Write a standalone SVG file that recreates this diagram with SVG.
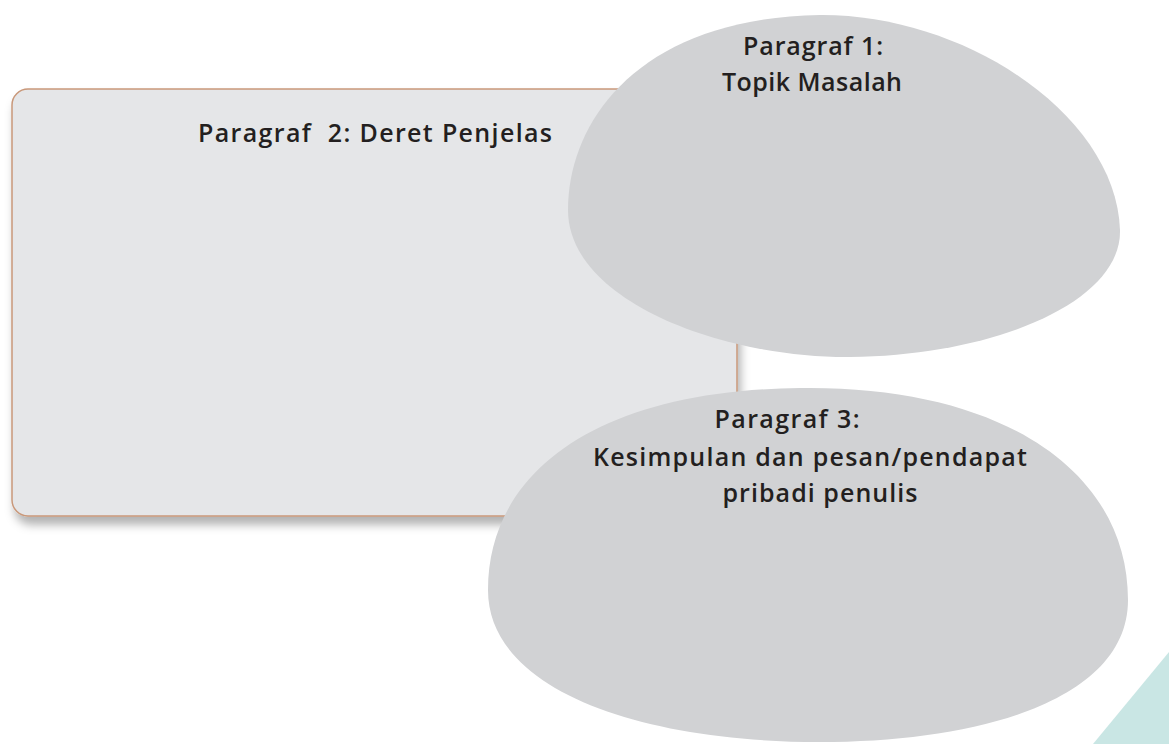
<svg xmlns="http://www.w3.org/2000/svg" width="1169" height="744" viewBox="0 0 1169 744">
<defs>
<filter id="sh" x="-5%" y="-5%" width="115%" height="125%">
<feDropShadow dx="3" dy="8" stdDeviation="5" flood-color="#000" flood-opacity="0.3"/>
</filter>
</defs>
<style>
.lbl{font-family:"Open Sans","Liberation Sans",sans-serif;font-weight:600;font-size:25px;fill:#231f20;text-anchor:middle}
.blob{fill:#d1d2d4}
</style>
<rect width="1169" height="744" fill="#ffffff"/>
<polygon points="1169,652 1169,744 1093,744" fill="#c9e6e4"/>
<g id="connectors"></g>
<g id="p2">
<rect x="12" y="89" width="725" height="427" rx="16" fill="#e5e6e8" stroke="#c9987a" stroke-width="1.5" filter="url(#sh)"/>
<text class="lbl" x="375" y="142" textLength="354" lengthAdjust="spacing" xml:space="preserve">Paragraf  2: Deret Penjelas</text>
</g>
<g id="p1">
<path class="blob" d="M 820 15 C 965 14, 1116 115, 1120 230 C 1122 300, 1000 355, 850 357 C 720 358, 568 300, 568 210 C 568 120, 640 18, 820 15 Z"/>
<text class="lbl" x="813" y="55" textLength="140" lengthAdjust="spacing">Paragraf 1:</text>
<text class="lbl" x="812" y="91" textLength="180" lengthAdjust="spacing">Topik Masalah</text>
</g>
<g id="p3">
<path class="blob" d="M 800 388 C 1000 385, 1128 470, 1128 600 C 1128 700, 980 742, 820 742 C 640 742, 488 690, 488 590 C 488 470, 600 390, 800 388 Z"/>
<text class="lbl" x="787" y="428" textLength="145" lengthAdjust="spacing">Paragraf 3:</text>
<text class="lbl" x="810" y="466" textLength="434" lengthAdjust="spacing">Kesimpulan dan pesan/pendapat</text>
<text class="lbl" x="820" y="502" textLength="195" lengthAdjust="spacing">pribadi penulis</text>
</g>
</svg>
